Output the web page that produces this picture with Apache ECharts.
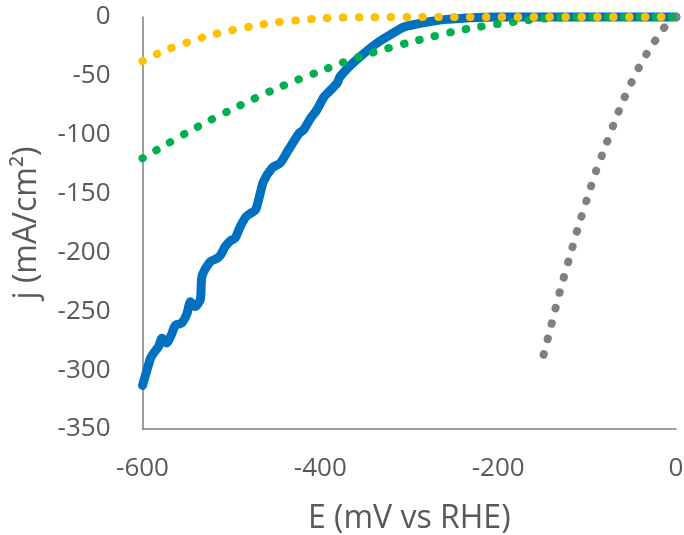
<!DOCTYPE html>
<html>
<head>
<meta charset="utf-8">
<script src="https://cdn.jsdelivr.net/npm/echarts@6/dist/echarts.min.js"></script>
<style>
html,body{margin:0;padding:0;background:#fff;}
#chart{width:684px;height:535px;}
</style>
</head>
<body>
<div id="chart"></div>
<script>
// ---- data (E in mV vs RHE, j in mA/cm2) ----
var blueE = [-600,-595,-591,-588,-582,-578,-573,-567,-563,-556,-550,-546,-541,-535,-533,-524,-516,-512,-507,-501,-496,-490,-484,-479,-473,-469,-464,-454,-445,-436,-424,-419,-411,-404,-396,-391,-381,-378,-366,-351,-336,-321,-306,-291,-276,-258,-239,-217,-200,-150,-100,-50,0];
var blueJ = [-313,-300,-290,-286,-280,-273,-277,-269,-262,-260,-252,-242,-246,-240,-220,-208,-205,-202,-195,-190,-188,-178,-170,-167,-164,-154,-140,-128,-124,-113,-99,-96,-86,-79,-68,-64,-56,-51,-41,-31,-22,-15,-8.5,-5.9,-3.8,-2,-1.1,-0.3,-0.1,0,0,0,0];

var grayE = [0,-10,-20,-30,-40,-50,-60,-70,-80,-90,-100,-110,-120,-130,-140,-151];
var grayJ = [0,-6,-16.5,-27.5,-40.5,-55.5,-72,-91,-111,-131,-154.5,-178.5,-205,-231.5,-261,-293];

var greenE = [-600,-575,-550,-525,-500,-475,-450,-425,-400,-375,-350,-325,-300,-275,-250,-225,-200,-175,-150,-125,-100,-50,0];
var greenJ = [-120,-109,-98.2,-88.1,-78.7,-69.6,-61,-53.2,-46,-38.7,-32.3,-26.8,-21.6,-16.9,-12.4,-8.8,-5.9,-3.4,-1.4,-0.4,0,0,0];

var yellowE = [-600,-575,-550,-525,-500,-475,-450,-425,-400,-375,-350,-300,-250,-200,-150,-100,-50,0];
var yellowJ = [-37.5,-28.5,-21.7,-15.7,-11.4,-7.6,-4.6,-2.8,-1.2,-0.5,-0.2,0,0,0,0,0,0,0];

var xTicks = [-600,-400,-200,0];
var yTicks = [-350,-300,-250,-200,-150,-100,-50,0];
var xTitle = 'E (mV vs RHE)';
var yTitle = 'j (mA/cm\u00B2)';

function pairs(xs, ys){ return xs.map(function(x,i){ return [x, ys[i]]; }); }

var textColor = '#595959';
var font = 'Open Sans';
var dot = function(color){
  return { color: color, width: 8, type: [0.5, 15.4], cap: 'round' };
};

var chart = echarts.init(document.getElementById('chart'), null, {renderer:'canvas'});
chart.setOption({
  animation: false,
  backgroundColor: '#ffffff',
  grid: { left: 142.5, right: 8, top: 17, bottom: 106, containLabel: false, outerBoundsMode: 'none' },
  xAxis: {
    type: 'value',
    min: xTicks[0], max: xTicks[xTicks.length-1], interval: 200,
    name: xTitle, nameLocation: 'middle', nameGap: 74,
    nameTextStyle: { color: textColor, fontFamily: font, fontSize: 32 },
    axisLine: { show: true, onZero: false, lineStyle: { color: '#7f7f7f', width: 1.5 } },
    axisTick: { show: false },
    splitLine: { show: false },
    axisLabel: { color: textColor, fontFamily: font, fontSize: 26, margin: 27 }
  },
  yAxis: {
    type: 'value',
    min: yTicks[0], max: yTicks[yTicks.length-1], interval: 50,
    name: yTitle, nameLocation: 'middle', nameGap: 100, nameRotate: 90,
    nameTextStyle: { color: textColor, fontFamily: font, fontSize: 32 },
    axisLine: { show: true, onZero: false, lineStyle: { color: '#7f7f7f', width: 1.5 } },
    axisTick: { show: false },
    splitLine: { show: false },
    axisLabel: { color: textColor, fontFamily: font, fontSize: 26, margin: 32 }
  },
  series: [
    { type: 'line', data: pairs(blueE, blueJ), showSymbol: false, symbol: 'none', clip: false,
      smooth: 0.25, lineStyle: { color: '#0070C0', width: 9, cap: 'round', join: 'round' }, z: 1 },
    { type: 'line', data: pairs(grayE, grayJ), showSymbol: false, symbol: 'none', clip: false,
      smooth: 0.3, lineStyle: dot('#808080'), z: 2 },
    { type: 'line', data: pairs(greenE, greenJ), showSymbol: false, symbol: 'none', clip: false,
      smooth: 0.3, lineStyle: dot('#00B050'), z: 3 },
    { type: 'line', data: pairs(yellowE, yellowJ), showSymbol: false, symbol: 'none', clip: false,
      smooth: 0.3, lineStyle: dot('#FFC000'), z: 4 }
  ]
});
</script>
</body>
</html>
